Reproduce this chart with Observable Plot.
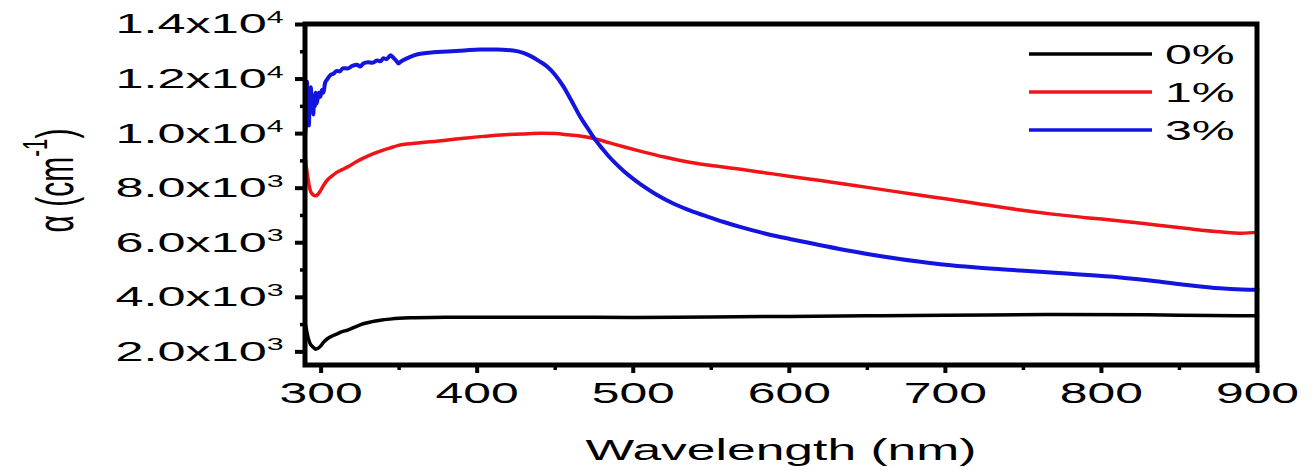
<!DOCTYPE html>
<html>
<head>
<meta charset="utf-8">
<script src="https://cdn.jsdelivr.net/npm/d3@7"></script>
<script src="https://cdn.jsdelivr.net/npm/@observablehq/plot@0.6"></script>
<style>
  body { margin: 0; background: #fff; }
  #chart { width: 1314px; height: 473px; }
</style>
</head>
<body>
<div id="chart"></div>
<script>
// ---------------- DATA ----------------
const seriesNames = ["0%", "1%", "3%"];

// 0 %
const wl0 = [290, 291, 292, 293, 294, 295, 296.5, 298, 299.5, 301.5, 304, 307, 310, 313, 317, 322, 327, 332, 338, 344, 350, 360, 380, 400, 450, 500, 550, 600, 650, 700, 770, 830, 870, 900];
const a0  = [3000, 2700, 2450, 2300, 2220, 2170, 2100, 2130, 2200, 2350, 2480, 2580, 2650, 2730, 2800, 2920, 3030, 3100, 3160, 3200, 3230, 3250, 3270, 3270, 3270, 3260, 3280, 3300, 3320, 3340, 3370, 3360, 3330, 3320];

// 1 %
const wl1 = [290, 290.5, 291.5, 292.5, 293.5, 295, 296.5, 298, 299.5, 301.5, 304, 307, 310, 313.5, 317, 322, 327, 332, 338, 344, 349, 355, 362, 370, 380, 390, 402, 415, 430, 441, 450, 458, 466, 476, 485, 495, 505, 520, 537, 553, 569, 585, 601, 620, 633, 650, 684, 700, 720, 748, 770, 790, 812, 835, 855, 876, 890, 900];
const a1  = [9050, 8800, 8400, 8050, 7850, 7750, 7720, 7780, 7900, 8100, 8300, 8450, 8580, 8680, 8780, 8950, 9100, 9230, 9360, 9470, 9560, 9620, 9660, 9700, 9760, 9820, 9890, 9950, 9990, 10010, 10000, 9960, 9910, 9800, 9660, 9500, 9350, 9140, 8940, 8810, 8690, 8560, 8430, 8280, 8170, 8030, 7740, 7610, 7440, 7200, 7040, 6920, 6800, 6650, 6520, 6400, 6350, 6380];

// 3 %
const wl3 = [290, 290.3, 290.6, 291, 291.4, 291.8, 292.2, 292.6, 293, 293.5, 294, 294.5, 295, 295.5, 296, 296.5, 297, 297.7, 298.5, 299.5, 300.5, 301.5, 302.5, 304, 306, 308, 310, 312, 314, 317, 320, 323, 325, 327, 330, 333, 336, 338, 340, 342, 344.5, 346, 348, 349.6, 351, 355, 360, 365, 372, 381, 392, 402, 412, 423, 430, 434, 440, 445, 450, 455, 460, 466, 471, 476, 480, 484, 489, 494, 500, 505, 515, 526, 537, 548, 558, 569, 585, 601, 620, 633, 650, 684, 700, 720, 748, 780, 812, 835, 855, 876, 890, 900];
const a3  = [10050, 11200, 10400, 11900, 10700, 11600, 10300, 11300, 10800, 11700, 10900, 11400, 10700, 11200, 11000, 11500, 11100, 11250, 11500, 11350, 11600, 11500, 11850, 12000, 12150, 12200, 12300, 12280, 12400, 12390, 12480, 12520, 12460, 12570, 12620, 12600, 12680, 12650, 12760, 12730, 12870, 12800, 12680, 12570, 12640, 12760, 12880, 12940, 12980, 13010, 13050, 13080, 13080, 13050, 12950, 12850, 12650, 12450, 12150, 11750, 11250, 10620, 10180, 9750, 9460, 9190, 8890, 8620, 8340, 8130, 7760, 7430, 7170, 6950, 6760, 6570, 6330, 6130, 5910, 5760, 5590, 5300, 5190, 5090, 4980, 4860, 4730, 4590, 4450, 4330, 4290, 4280];

const xTicks = [300, 400, 500, 600, 700, 800, 900];
const xMinorTicks = [350, 450, 550, 650, 750, 850];
const yTicks = [2000, 4000, 6000, 8000, 10000, 12000, 14000];
const yTickLabels = ["2.0x10^3", "4.0x10^3", "6.0x10^3", "8.0x10^3", "1.0x10^4", "1.2x10^4", "1.4x10^4"];
const yMinorTicks = [3000, 5000, 7000, 9000, 11000, 13000];
const xLabel = "Wavelength (nm)";
const yLabelParts = ["α (cm", "-1", ")"];

// ---------------- STYLE ----------------
const S = 1.72;              // horizontal stretch of the original figure's text
const SY = 1.8;              // stretch for y tick labels
const W = 1314, H = 473;
const M = {left: 305, right: 57, top: 24, bottom: 108};
const colors = ["#000000", "#f01418", "#1414e0"];
const widths = [3.5, 3.5, 4];
const FONT = "'Liberation Sans', Arial, Helvetica, sans-serif";
const svgNS = "http://www.w3.org/2000/svg";

const toRows = (wl, a, s) => wl.map((w, i) => ({wl: w, a: a[i], series: s}));
const rows = [toRows(wl0, a0, seriesNames[0]), toRows(wl1, a1, seriesNames[1]), toRows(wl3, a3, seriesNames[2])];

const plot = Plot.plot({
  width: W, height: H,
  marginLeft: M.left, marginRight: M.right, marginTop: M.top, marginBottom: M.bottom,
  style: {fontFamily: FONT, color: "#000", background: "#fff", overflow: "visible"},
  x: {domain: [290, 900]},
  y: {domain: [1500, 14000]},
  marks: [
    ...rows.map((r, i) => Plot.line(r, {x: "wl", y: "a", stroke: colors[i], strokeWidth: widths[i], curve: "monotone-x", strokeLinejoin: "round"})),
    Plot.axisX(xTicks, {tickSize: 8, tickPadding: 9, fontSize: 29, stroke: "#000", strokeWidth: 4, tickFormat: d => String(d), label: null}),
    Plot.axisX(xMinorTicks, {tickSize: 5, stroke: "#000", strokeWidth: 3.5, tickFormat: () => "", label: null}),
    Plot.axisY(yTicks, {tickSize: 10, tickPadding: 12, fontSize: 28, stroke: "#000", strokeWidth: 4, tickFormat: d => yTickLabels[yTicks.indexOf(d)], label: null}),
    Plot.axisY(yMinorTicks, {tickSize: 5, stroke: "#000", strokeWidth: 3.5, tickFormat: () => "", label: null})
  ]
});

const svg = plot;
const root = d3.select(svg);

// enforce thick black ticks (major then minor, in document order)
["x-axis tick", "y-axis tick"].forEach(lab => {
  root.selectAll(`g[aria-label="${lab}"]`).each(function (d, i) {
    const sw = i === 0 ? 4 : 3.5;
    d3.select(this).attr("stroke", "#000").attr("stroke-opacity", 1).attr("stroke-width", sw)
      .selectAll("path,line").attr("stroke", "#000").attr("stroke-width", sw);
  });
});

// frame (drawn over lines)
root.append("rect")
  .attr("x", M.left).attr("y", M.top)
  .attr("width", W - M.left - M.right).attr("height", H - M.top - M.bottom)
  .attr("fill", "none").attr("stroke", "#000").attr("stroke-width", 5);

// superscripts in tick labels
svg.querySelectorAll("text").forEach(t => {
  const txt = t.textContent;
  if (txt.includes("^")) {
    const [base, exp] = txt.split("^");
    t.textContent = base;
    t.setAttribute("data-sy", "1");
    const ts = document.createElementNS(svgNS, "tspan");
    ts.setAttribute("font-size", "0.6em");
    ts.setAttribute("dy", "-0.62em");
    ts.textContent = exp;
    t.appendChild(ts);
  }
});

// x title
const plotCx = M.left + (W - M.left - M.right) / 2;
root.append("text")
  .attr("font-family", FONT).attr("font-size", 30).attr("fill", "#000")
  .attr("text-anchor", "middle")
  .attr("transform", `translate(${plotCx},460)`)
  .text(xLabel);

// y title (rotated)
const yt = root.append("text")
  .attr("class", "ytitle")
  .attr("font-family", FONT).attr("font-size", 30).attr("fill", "#000")
  .attr("text-anchor", "middle")
  .attr("transform", `translate(73,${M.top + (H - M.top - M.bottom) / 2 - 14}) rotate(-90) scale(1,${S})`);
yt.append("tspan").text(yLabelParts[0]);
yt.append("tspan").attr("font-size", "0.68em").attr("dy", "-0.75em").text(yLabelParts[1]);
yt.append("tspan").attr("dy", "0.51em").text(yLabelParts[2]);

// legend
const lg = root.append("g");
seriesNames.forEach((name, i) => {
  const y = 54 + i * 38;
  lg.append("line").attr("x1", 1029).attr("x2", 1152).attr("y1", y).attr("y2", y)
    .attr("stroke", colors[i]).attr("stroke-width", 3.5);
  lg.append("text").attr("font-family", FONT).attr("font-size", 28).attr("fill", "#000")
    .attr("text-anchor", "start")
    .attr("dy", "0.35em")
    .attr("transform", `translate(1165,${y})`)
    .text(name);
});

// horizontal stretch of all non-rotated texts
svg.querySelectorAll("text").forEach(t => {
  if (t.classList.contains("ytitle")) return;
  const s = t.getAttribute("data-sy") ? SY : S;
  const tr = t.getAttribute("transform") || "";
  t.setAttribute("transform", `${tr} scale(${s},1)`);
});

document.getElementById("chart").appendChild(svg);
</script>
</body>
</html>
